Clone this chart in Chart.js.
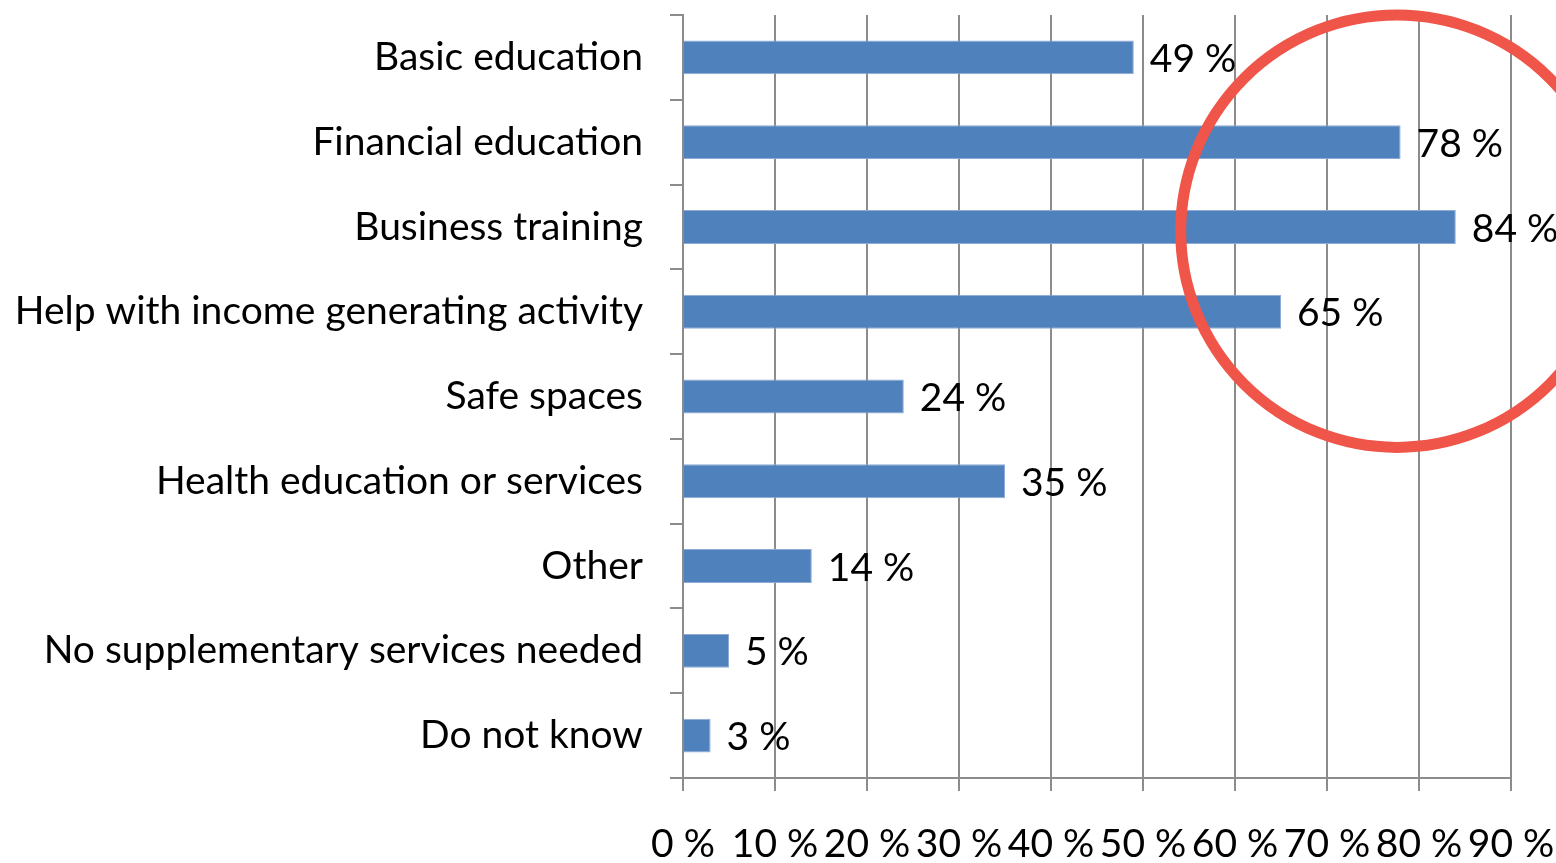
<!DOCTYPE html>
<html>
<head>
<meta charset="utf-8">
<script src="https://cdn.jsdelivr.net/npm/chart.js@4.4.0/dist/chart.umd.min.js"></script>
<style>
  html, body { margin: 0; padding: 0; background: #fff; }
  #wrap { width: 1556px; height: 863px; position: relative; }
</style>
</head>
<body>
<div id="wrap"><canvas id="services"></canvas></div>
<script>
const categories = [
  'Basic education',
  'Financial education',
  'Business training',
  'Help with income generating activity',
  'Safe spaces',
  'Health education or services',
  'Other',
  'No supplementary services needed',
  'Do not know'
];
const shares = [49, 78, 84, 65, 24, 35, 14, 5, 3];
const xTicks = [0, 10, 20, 30, 40, 50, 60, 70, 80, 90];

const FONT = 'Lato, "Open Sans", sans-serif';
const FSIZE = 39;
const GRID = '#8c8c8c';

// value labels just right of each bar
const barLabels = {
  id: 'barLabels',
  afterDatasetsDraw(chart) {
    const { ctx } = chart;
    const meta = chart.getDatasetMeta(0);
    ctx.save();
    ctx.font = FSIZE + 'px ' + FONT;
    ctx.fillStyle = '#000';
    ctx.textAlign = 'left';
    ctx.textBaseline = 'middle';
    meta.data.forEach((bar, i) => {
      ctx.fillText(shares[i] + ' %', bar.x + 16, bar.y + 2);
    });
    ctx.restore();
  }
};

// red ring around the top scores
const ring = {
  id: 'ring',
  afterDraw(chart) {
    const { ctx, scales: { x, y } } = chart;
    const cx = x.getPixelForValue(77.6);
    const cy = y.getPixelForValue(2.05);
    const r = x.getPixelForValue(23.5) - x.getPixelForValue(0);
    ctx.save();
    ctx.beginPath();
    ctx.arc(cx, cy, r, 0, Math.PI * 2);
    ctx.lineWidth = 11;
    ctx.strokeStyle = '#ef5548';
    ctx.stroke();
    ctx.restore();
  }
};

new Chart(document.getElementById('services').getContext('2d'), {
  type: 'bar',
  data: {
    labels: categories,
    datasets: [{
      data: shares,
      backgroundColor: '#4f81bd',
      borderColor: '#8eaad6',
      borderWidth: 1,
      barPercentage: 0.4,
      categoryPercentage: 1
    }]
  },
  options: {
    indexAxis: 'y',
    responsive: true,
    maintainAspectRatio: false,
    animation: false,
    layout: { padding: { top: 15, right: 45, bottom: 0, left: 0 } },
    plugins: { legend: { display: false }, tooltip: { enabled: false } },
    scales: {
      x: {
        min: 0, max: 90,
        afterBuildTicks: s => { s.ticks = xTicks.map(v => ({ value: v })); },
        afterFit: s => { s.height = 85; s.paddingLeft = 0; s.paddingRight = 0; },
        border: { color: GRID, width: 2 },
        grid: { color: GRID, lineWidth: 2, tickLength: 13 },
        ticks: {
          color: '#000',
          font: { family: FONT, size: FSIZE },
          padding: 30,
          maxRotation: 0,
          autoSkip: false,
          callback: v => v + ' %'
        }
      },
      y: {
        afterFit: s => { s.width = 683; s.paddingTop = 0; s.paddingBottom = 0; },
        border: { color: GRID, width: 2 },
        grid: { color: GRID, lineWidth: 2, tickLength: 13, drawOnChartArea: false, offset: true },
        ticks: {
          color: '#000',
          font: { family: FONT, size: FSIZE },
          padding: 27,
          autoSkip: false
        }
      }
    }
  },
  plugins: [barLabels, ring]
});
</script>
</body>
</html>
